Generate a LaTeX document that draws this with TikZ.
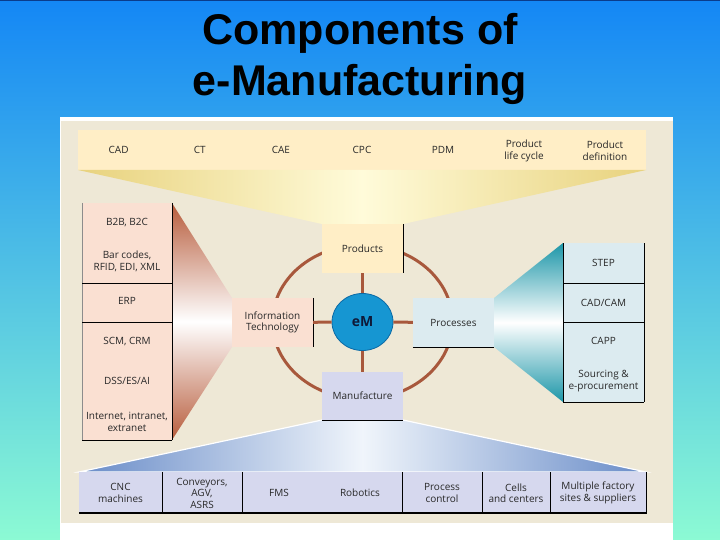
\documentclass[tikz,border=0pt]{standalone}
\usepackage{fontspec}
\setmainfont{Open Sans}
\newfontfamily\titlefont{Liberation Sans}
\usetikzlibrary{shapes.geometric}
\definecolor{bgtop}{RGB}{20,135,245}
\definecolor{bgmid}{RGB}{70,195,240}
\definecolor{bgbot}{RGB}{140,250,212}
\definecolor{navyline}{RGB}{10,60,140}
\definecolor{beige}{RGB}{238,232,214}
\definecolor{topbar}{RGB}{255,238,198}
\definecolor{yellowside}{RGB}{232,210,125}
\definecolor{yellowmid}{RGB}{255,251,218}
\definecolor{peach}{RGB}{250,224,210}
\definecolor{brownfun}{RGB}{183,92,60}
\definecolor{bluegray}{RGB}{220,235,240}
\definecolor{tealfun}{RGB}{28,150,168}
\definecolor{lav}{RGB}{214,216,238}
\definecolor{bluefun}{RGB}{105,140,200}
\definecolor{bluemid}{RGB}{240,245,251}
\definecolor{emfill}{RGB}{22,150,210}
\definecolor{emdraw}{RGB}{10,105,165}
\definecolor{ringc}{RGB}{168,88,60}
\definecolor{txt}{RGB}{40,40,40}
\definecolor{emtxt}{RGB}{15,25,55}
\begin{document}
\begin{tikzpicture}[x=1pt,y=-1pt,
  lbl/.style={font=\fontsize{10}{11.5}\selectfont, text=txt, align=center, inner sep=0pt},
  boxn/.style={minimum width=81pt, minimum height=49pt, inner sep=0pt, align=center,
    font=\fontsize{10}{11.5}\selectfont, text=txt},
  edgeln/.style={black, line width=0.9pt},
  spoke/.style={ringc, line width=3pt},
  titl/.style={font=\titlefont\bfseries\fontsize{43}{50}\selectfont, anchor=base, inner sep=0pt}]
\useasboundingbox (0,0) rectangle (720,540);
% slide background
\shade[top color=bgtop, middle color=bgmid, bottom color=bgbot] (0,0) rectangle (720,540);
\draw[navyline, line width=1.5pt] (0,0.75) -- (720,0.75);
% title
\node[titl] (t1) at (360,45) {Components of};
\node[titl] (t2) at (360,96) {e-Manufacturing};
% panel
\fill[white] (60,117) rectangle (673,540);
\fill[beige] (61,121) rectangle (673,523);
% top bar and funnel
\fill[topbar] (78,130) rectangle (646,170);
\shade[left color=yellowside, right color=yellowside, middle color=yellowmid]
  (78,170) -- (646,170) -- (403,224) -- (322,224) -- cycle;
% ring
\draw[spoke] (362.5,322) ellipse [x radius=90, y radius=77];
% side funnels
\shade[top color=brownfun, bottom color=brownfun, middle color=white]
  (172,203) -- (232,298) -- (232,347) -- (172,440) -- cycle;
\shade[top color=tealfun, bottom color=tealfun, middle color=white]
  (563,243) -- (494,298) -- (494,347) -- (563,402) -- cycle;
\shadedraw[left color=bluefun, right color=bluefun, middle color=bluemid, draw=white, line width=1.2pt]
  (322,420) -- (403,420) -- (646,472) -- (79,472) -- cycle;
% left panel
\fill[peach] (82,203) rectangle (172,440);
\draw[black!45, line width=0.6pt] (82,203) -- (82,440);
\draw[edgeln] (172,203) -- (172,440) (82,283) -- (172,283) (82,322) -- (172,322) (82,440) -- (172,440);
% right panel
\fill[bluegray] (563,243) rectangle (644,402);
\draw[edgeln] (563,243) -- (563,402) (644,243) -- (644,402) (563,283) -- (644,283) (563,322) -- (644,322) (563,402) -- (644,402);
% bottom bar
\fill[lav] (79,472) rectangle (646,513);
\draw[edgeln] (162,472) -- (162,513) (242,472) -- (242,513) (402,472) -- (402,513)
  (482,472) -- (482,513) (550,472) -- (550,513) (646,472) -- (646,513);
\draw[black, line width=2pt] (79,513) -- (647,513);
% central boxes
\node[boxn, fill=topbar] (prod) at (362.5,248.5) {Products};
\node[boxn, fill=peach] (it) at (272.5,322.5) {Information\\Technology};
\node[boxn, fill=bluegray] (proc) at (453.5,322.5) {Processes};
\node[boxn, fill=lav, minimum height=48pt] (manu) at (362.5,396) {Manufacture};
\draw[edgeln] (prod.north east) -- (prod.south east);
\draw[edgeln] (it.north east) -- (it.south east);
\draw[edgeln] (proc.south west) -- (proc.south east);
\draw[edgeln] (manu.south west) -- (manu.south east);
\node[ellipse, fill=emfill, draw=emdraw, line width=0.8pt, minimum width=61pt, minimum height=57pt,
  inner sep=0pt, font=\bfseries\fontsize{14}{16}\selectfont, text=emtxt] (em) at (362.5,322) {eM};
\draw[spoke] (em) -- (prod);
\draw[spoke] (em) -- (it);
\draw[spoke] (em) -- (proc);
\draw[spoke] (em) -- (manu);
% top bar labels
\node[lbl] (cad) at (118.6,150) {CAD};
\node[lbl] (ct) at (199.7,150) {CT};
\node[lbl] (cae) at (280.9,150) {CAE};
\node[lbl] (cpc) at (362,150) {CPC};
\node[lbl] (pdm) at (443,150) {PDM};
\node[lbl] (plc) at (524,151) {Product\\life cycle};
\node[lbl] (pdef) at (605,151) {Product\\definition};
% left labels
\node[lbl] (b2b) at (127,223) {B2B, B2C};
\node[lbl] (bar) at (127,261.5) {Bar codes,\\RFID, EDI, XML};
\node[lbl] (erp) at (127,301) {ERP};
\node[lbl] (scm) at (127,342) {SCM, CRM};
\node[lbl] (dss) at (127,381) {DSS/ES/AI};
\node[lbl] (inet) at (127,422) {Internet, intranet,\\extranet};
% right labels
\node[lbl] (step) at (603.5,263) {STEP};
\node[lbl] (cadcam) at (603.5,302.5) {CAD/CAM};
\node[lbl] (capp) at (603.5,341) {CAPP};
\node[lbl] (src) at (603.5,381) {Sourcing \&\\e-procurement};
% bottom labels
\node[lbl] (cnc) at (120.5,493) {CNC\\machines};
\node[lbl] (conv) at (202,493) {Conveyors,\\AGV,\\ASRS};
\node[lbl] (fms) at (279,493) {FMS};
\node[lbl] (rob) at (360,493) {Robotics};
\node[lbl] (pc) at (442,493) {Process\\control};
\node[lbl] (cells) at (516,493) {Cells\\and centers};
\node[lbl] (mult) at (598,493) {Multiple factory\\sites \& suppliers};
\end{tikzpicture}
\end{document}
